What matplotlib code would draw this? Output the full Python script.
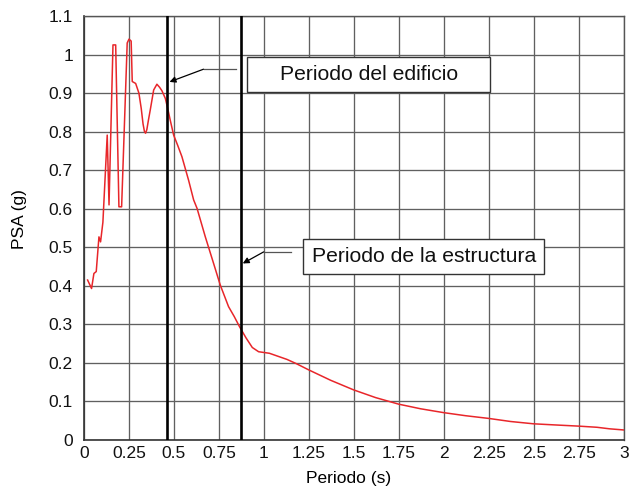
import matplotlib
matplotlib.use("Agg")
import matplotlib.pyplot as plt
from matplotlib.patches import Rectangle
from matplotlib.ticker import FuncFormatter

plt.rcParams['font.family'] = ['Liberation Sans', 'DejaVu Sans']

# Spectrum data (period in s, pseudo-spectral acceleration in g)
periods = [0.02, 0.042, 0.055, 0.068, 0.083, 0.092, 0.105, 0.129, 0.139,
           0.161, 0.176, 0.194, 0.209, 0.240, 0.250, 0.262, 0.268, 0.287,
           0.305, 0.318, 0.328, 0.336, 0.342, 0.349, 0.358, 0.368, 0.387,
           0.405, 0.420, 0.433, 0.452, 0.465, 0.479, 0.498, 0.520, 0.544,
           0.581, 0.609, 0.628, 0.674, 0.720, 0.757, 0.803, 0.835, 0.864,
           0.900, 0.935, 0.970, 1.030, 1.128, 1.180, 1.248, 1.370, 1.498,
           1.620, 1.748, 1.870, 1.998, 2.120, 2.248, 2.370, 2.498, 2.620,
           2.748, 2.850, 2.920, 3.000]
psa = [0.415, 0.393, 0.432, 0.437, 0.527, 0.514, 0.565, 0.791, 0.610,
       1.025, 1.025, 0.605, 0.605, 1.030, 1.040, 1.035, 0.930, 0.925,
       0.900, 0.860, 0.820, 0.800, 0.796, 0.805, 0.830, 0.856, 0.908,
       0.923, 0.915, 0.906, 0.886, 0.860, 0.830, 0.791, 0.765, 0.735,
       0.674, 0.623, 0.601, 0.527, 0.458, 0.402, 0.346, 0.320, 0.294,
       0.265, 0.240, 0.229, 0.225, 0.209, 0.198, 0.182, 0.155, 0.130,
       0.110, 0.093, 0.081, 0.071, 0.063, 0.056, 0.048, 0.042, 0.039,
       0.036, 0.033, 0.029, 0.026]

building_period = 0.46
structure_period = 0.87
building_label = "Periodo del edificio"
structure_label = "Periodo de la estructura"

x_ticks = [0, 0.25, 0.5, 0.75, 1, 1.25, 1.5, 1.75, 2, 2.25, 2.5, 2.75, 3]
y_ticks = [0, 0.1, 0.2, 0.3, 0.4, 0.5, 0.6, 0.7, 0.8, 0.9, 1.0, 1.1]

W, H = 631, 490
fig = plt.figure(figsize=(W / 100, H / 100), dpi=100)
ax = fig.add_axes([84 / W, 50 / H, 540 / W, 424 / H])

ax.plot(periods, psa, color='#e8262a', lw=1.1, zorder=3)
ax.axvline(building_period, color='black', lw=1.9, zorder=4)
ax.axvline(structure_period, color='black', lw=1.9, zorder=4)

ax.set_xlim(0, 3)
ax.set_ylim(0, 1.1)
ax.set_xticks(x_ticks)
ax.set_yticks(y_ticks)
fmt = FuncFormatter(lambda v, p: ('%.2f' % v).rstrip('0').rstrip('.'))
ax.xaxis.set_major_formatter(fmt)
ax.yaxis.set_major_formatter(fmt)
ax.grid(True, color='#606060', lw=0.95, zorder=1)
ax.set_axisbelow(True)
ax.tick_params(axis='both', length=0, labelsize=12.5, colors='#111111')
ax.tick_params(axis='y', pad=8)
ax.tick_params(axis='x', pad=4)
for s in ax.spines.values():
    s.set_color('#555555')
    s.set_linewidth(1.0)
ax.spines['left'].set_color('#333333')
ax.spines['bottom'].set_color('#333333')
ax.spines['left'].set_linewidth(1.2)
ax.spines['bottom'].set_linewidth(1.2)

ax.set_xlabel('Periodo (s)', fontsize=12.5, va='center')
ax.xaxis.set_label_coords(0.49, -0.09)
ax.set_ylabel('PSA (g)', fontsize=12.5, va='center')
ax.yaxis.set_label_coords(-0.12, 0.52)


def callout(x0, x1, y0, y1, text, knee, start, tip):
    ax.add_patch(Rectangle((x0, y0), x1 - x0, y1 - y0, facecolor='white',
                           edgecolor='#333333', lw=1.0, zorder=5))
    ax.text((x0 + x1) / 2, (y0 + y1) / 2, text, ha='center', va='center',
            fontsize=15.2, color='#111111', zorder=6)
    ax.plot([start[0], knee[0]], [start[1], knee[1]], color='#555555',
            lw=0.9, zorder=5)
    ax.annotate('', xy=tip, xytext=knee,
                arrowprops=dict(arrowstyle='-|>', color='#555555', lw=0.9,
                                mutation_scale=9, shrinkA=0, shrinkB=0,
                                fc='black', ec='black'),
                zorder=6)


callout(0.907, 2.257, 0.903, 0.994, building_label,
        knee=(0.664, 0.962), start=(0.846, 0.962),
        tip=(building_period + 0.015, 0.929))
callout(1.217, 2.557, 0.431, 0.521, structure_label,
        knee=(0.998, 0.488), start=(1.150, 0.488),
        tip=(structure_period + 0.012, 0.458))

fig.savefig('out.png', dpi=100, facecolor='white')
